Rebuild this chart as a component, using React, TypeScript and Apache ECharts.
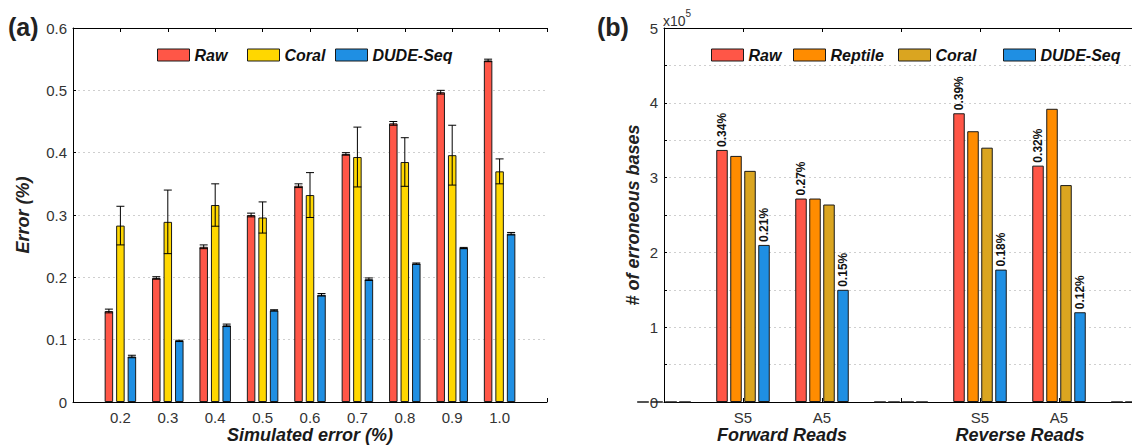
import React, { useEffect, useRef } from 'react';
import * as echarts from 'echarts';

const FONT = '"Liberation Sans", Arial, Helvetica, sans-serif';

// ---------- Panel (a) data ----------
const simErrors = ['0.2', '0.3', '0.4', '0.5', '0.6', '0.7', '0.8', '0.9', '1.0'];
const rawA = [0.146, 0.199, 0.249, 0.300, 0.347, 0.398, 0.447, 0.497, 0.548];
const rawErrA = [0.003, 0.002, 0.003, 0.003, 0.003, 0.002, 0.003, 0.003, 0.002];
const coralA = [0.283, 0.289, 0.316, 0.296, 0.332, 0.393, 0.385, 0.396, 0.370];
const coralErrA = [0.031, 0.051, 0.034, 0.025, 0.036, 0.048, 0.039, 0.048, 0.020];
const dudeA = [0.073, 0.098, 0.123, 0.147, 0.172, 0.197, 0.222, 0.247, 0.270];
const dudeErrA = [0.002, 0.001, 0.002, 0.001, 0.002, 0.002, 0.001, 0.001, 0.002];
const yTicksA = [0, 0.1, 0.2, 0.3, 0.4, 0.5, 0.6];
const xNameA = 'Simulated error (%)';

// ---------- Panel (b) data ----------
const readCats = ['S5', 'A5', 'S5', 'A5'];
const rawB = [337000, 272000, 386000, 316000];
const reptileB = [329000, 272000, 362000, 392000];
const coralB = [309000, 264000, 340000, 290000];
const dudeB = [210000, 150000, 177000, 120000];
const rawPctB = ['0.34%', '0.27%', '0.39%', '0.32%'];
const dudePctB = ['0.21%', '0.15%', '0.18%', '0.12%'];
const groupNames = ['Forward Reads', 'Reverse Reads'];

const C_RED = '#ff5647';
const C_YEL = '#ffd700';
const C_BLUE = '#1f8fe3';
const C_ORANGE = '#ff8c00';
const C_GOLD = '#daa520';

// axis categories: empty slot on each side (and between groups for b)
const catsAxisA = ['', ...simErrors, ''];
const catsAxisB = ['', readCats[0], readCats[1], '', readCats[2], readCats[3], ''];
const padA = (arr: number[]) => ['-', ...arr, '-'];
const padB = (arr: any[]) => [0, arr[0], arr[1], 0, arr[2], arr[3], 0];

const BW_A = 8.5;
const GAP_A = 3;
const BW_B = 11.5;
const GAP_B = 2.5;

function errSeries(vals: number[], errs: number[], offset: number) {
  return {
    type: 'custom',
    xAxisIndex: 0,
    yAxisIndex: 0,
    z: 10,
    silent: true,
    encode: { x: 0, y: 1 },
    data: vals.map((v, i) => [i + 1, v, errs[i]]),
    renderItem: (params: any, api: any) => {
      const idx = api.value(0);
      const v = api.value(1);
      const e = api.value(2);
      const top = api.coord([idx, v + e]);
      const bot = api.coord([idx, v - e]);
      const x = top[0] + offset;
      const hw = 4;
      const st = { stroke: '#000', lineWidth: 1 };
      return {
        type: 'group',
        children: [
          { type: 'line', shape: { x1: x, y1: top[1], x2: x, y2: bot[1] }, style: st },
          { type: 'line', shape: { x1: x - hw, y1: top[1], x2: x + hw, y2: top[1] }, style: st },
          { type: 'line', shape: { x1: x - hw, y1: bot[1], x2: x + hw, y2: bot[1] }, style: st },
        ],
      };
    },
  };
}

const barBorder = { borderColor: '#1a1a1a', borderWidth: 1 };

function legendItem(name: string, left: number, color: string) {
  return {
    data: [{ name, itemStyle: { color, borderColor: '#1a1a1a', borderWidth: 1 } }],
    left,
    top: 47,
    padding: 0,
    icon: 'rect',
    itemWidth: 32,
    itemHeight: 12,
    selectedMode: false,
    textStyle: { fontFamily: FONT, fontSize: 16, fontWeight: 'bold', fontStyle: 'italic', color: '#111' },
  };
}

const labelStyle = {
  show: true,
  position: 'top',
  rotate: 90,
  align: 'left',
  verticalAlign: 'middle',
  distance: 3,
  fontFamily: FONT,
  fontSize: 12,
  fontWeight: 'bold',
  color: '#111',
};

const nameText = (text: string, x: number) => ({
  type: 'text', x, y: 435,
  style: { text, fontFamily: FONT, fontSize: 18, fontWeight: 'bold', fontStyle: 'italic', fill: '#1a1a1a', align: 'center', verticalAlign: 'middle' },
});

const offA = BW_A + GAP_A;

const option: any = {
  animation: false,
  backgroundColor: '#fff',
  textStyle: { fontFamily: FONT },
  grid: [
    { left: 73, top: 28, width: 474, height: 374, containLabel: false, outerBoundsMode: 'none' },
    { left: 664, top: 28, width: 474, height: 374, containLabel: false, outerBoundsMode: 'none' },
  ],
  legend: [
    legendItem('Raw', 157, C_RED),
    legendItem('Coral', 247, C_YEL),
    legendItem('DUDE-Seq', 335, C_BLUE),
    legendItem('Raw', 711, C_RED),
    legendItem('Reptile', 793, C_ORANGE),
    legendItem('Coral', 898, C_GOLD),
    legendItem('DUDE-Seq', 1003, C_BLUE),
  ],
  xAxis: [
    {
      gridIndex: 0, type: 'category', data: catsAxisA, boundaryGap: false, position: 'bottom',
      axisLine: { onZero: false, lineStyle: { color: '#000', width: 1 } },
      axisTick: { show: true, inside: true, length: 4, interval: 0, lineStyle: { color: '#000' } },
      axisLabel: { color: '#333', fontSize: 15, margin: 8, interval: 0 },
      splitLine: { show: false },
    },
    {
      gridIndex: 0, type: 'category', data: catsAxisA, boundaryGap: false, position: 'top',
      axisLine: { onZero: false, lineStyle: { color: '#000', width: 1 } },
      axisTick: { show: true, inside: true, length: 4, interval: 0, lineStyle: { color: '#000' } },
      axisLabel: { show: false },
      splitLine: { show: false },
    },
    {
      gridIndex: 1, type: 'category', data: catsAxisB, boundaryGap: false, position: 'bottom',
      axisLine: { onZero: false, lineStyle: { color: '#000', width: 1 } },
      axisTick: { show: true, inside: true, length: 4, interval: 0, lineStyle: { color: '#000' } },
      axisLabel: { color: '#333', fontSize: 15, margin: 8, interval: 0 },
      splitLine: { show: false },
    },
    {
      gridIndex: 1, type: 'category', data: catsAxisB, boundaryGap: false, position: 'top',
      axisLine: { onZero: false, lineStyle: { color: '#000', width: 1 } },
      axisTick: { show: true, inside: true, length: 4, interval: 0, lineStyle: { color: '#000' } },
      axisLabel: { show: false },
      splitLine: { show: false },
    },
  ],
  yAxis: [
    {
      gridIndex: 0, type: 'value', min: yTicksA[0], max: yTicksA[yTicksA.length - 1], interval: 0.1,
      axisLine: { show: true, onZero: false, lineStyle: { color: '#000', width: 1 } },
      axisTick: { show: true, inside: true, length: 3, lineStyle: { color: '#000' } },
      axisLabel: { color: '#333', fontSize: 15, margin: 6, formatter: (v: number) => (v === 0 ? '0' : v.toFixed(1)) },
      splitLine: { show: true, lineStyle: { color: '#cfcfcf', type: [2, 3], width: 1 } },
      name: 'Error (%)', nameLocation: 'middle', nameGap: 41,
      nameTextStyle: { fontFamily: FONT, fontSize: 18, fontWeight: 'bold', fontStyle: 'italic', color: '#222' },
    },
    {
      gridIndex: 1, type: 'value', min: 0, max: 500000, interval: 50000,
      axisLine: { show: true, onZero: false, lineStyle: { color: '#000', width: 1 } },
      axisTick: { show: true, inside: true, length: 3, lineStyle: { color: '#000' } },
      axisLabel: {
        color: '#333', fontSize: 15, margin: 6, showMaxLabel: true,
        formatter: (v: number) => (v % 100000 === 0 ? String(v / 100000) : ''),
      },
      splitLine: { show: true, lineStyle: { color: '#cfcfcf', type: [2, 3], width: 1 } },
      name: '# of erroneous bases', nameLocation: 'middle', nameGap: 22,
      nameTextStyle: { fontFamily: FONT, fontSize: 18, fontWeight: 'bold', fontStyle: 'italic', color: '#222' },
    },
  ],
  graphic: [
    { type: 'text', left: 8, top: 14, style: { text: '(a)', fontFamily: FONT, fontSize: 25, fontWeight: 'bold', fill: '#222' } },
    { type: 'text', left: 597, top: 14, style: { text: '(b)', fontFamily: FONT, fontSize: 25, fontWeight: 'bold', fill: '#222' } },
    {
      type: 'text', left: 663, top: 8,
      style: {
        text: '{a|x10}{s|5}', fontFamily: FONT,
        rich: {
          a: { fontFamily: FONT, fontSize: 14, fill: '#333', verticalAlign: 'bottom', padding: [6, 0, 0, 0] },
          s: { fontFamily: FONT, fontSize: 10, fill: '#333', verticalAlign: 'top' },
        },
      },
    },
    nameText(xNameA, 310),
    nameText(groupNames[0], 782),
    nameText(groupNames[1], 1020),
  ],
  series: [
    // panel (a)
    { name: 'Raw', type: 'bar', xAxisIndex: 0, yAxisIndex: 0, data: padA(rawA), barWidth: BW_A, barGap: `${(GAP_A / BW_A) * 100}%`, itemStyle: { color: C_RED, ...barBorder } },
    { name: 'Coral', type: 'bar', xAxisIndex: 0, yAxisIndex: 0, data: padA(coralA), barWidth: BW_A, barGap: `${(GAP_A / BW_A) * 100}%`, itemStyle: { color: C_YEL, ...barBorder } },
    { name: 'DUDE-Seq', type: 'bar', xAxisIndex: 0, yAxisIndex: 0, data: padA(dudeA), barWidth: BW_A, barGap: `${(GAP_A / BW_A) * 100}%`, itemStyle: { color: C_BLUE, ...barBorder } },
    errSeries(rawA, rawErrA, -offA),
    errSeries(coralA, coralErrA, 0),
    errSeries(dudeA, dudeErrA, offA),
    // panel (b)
    {
      name: 'Raw', type: 'bar', xAxisIndex: 2, yAxisIndex: 1, barWidth: BW_B, barGap: `${(GAP_B / BW_B) * 100}%`,
      data: padB(rawB.map((v, i) => ({ value: v, label: { ...labelStyle, formatter: rawPctB[i] } }))),
      itemStyle: { color: C_RED, ...barBorder },
    },
    {
      name: 'Reptile', type: 'bar', xAxisIndex: 2, yAxisIndex: 1, barWidth: BW_B, barGap: `${(GAP_B / BW_B) * 100}%`,
      data: padB(reptileB), itemStyle: { color: C_ORANGE, ...barBorder },
    },
    {
      name: 'Coral', type: 'bar', xAxisIndex: 2, yAxisIndex: 1, barWidth: BW_B, barGap: `${(GAP_B / BW_B) * 100}%`,
      data: padB(coralB), itemStyle: { color: C_GOLD, ...barBorder },
    },
    {
      name: 'DUDE-Seq', type: 'bar', xAxisIndex: 2, yAxisIndex: 1, barWidth: BW_B, barGap: `${(GAP_B / BW_B) * 100}%`,
      data: padB(dudeB.map((v, i) => ({ value: v, label: { ...labelStyle, formatter: dudePctB[i] } }))),
      itemStyle: { color: C_BLUE, ...barBorder },
    },
  ],
};

export default function App() {
  const ref = useRef<HTMLDivElement>(null);
  useEffect(() => {
    if (!ref.current) return;
    const chart = echarts.init(ref.current, null, { renderer: 'svg' });
    chart.setOption(option);
    return () => chart.dispose();
  }, []);
  return (
    <div
      ref={ref}
      style={{ position: 'absolute', left: 0, top: 0, width: 1132, height: 447, background: '#fff', overflow: 'hidden' }}
    />
  );
}
